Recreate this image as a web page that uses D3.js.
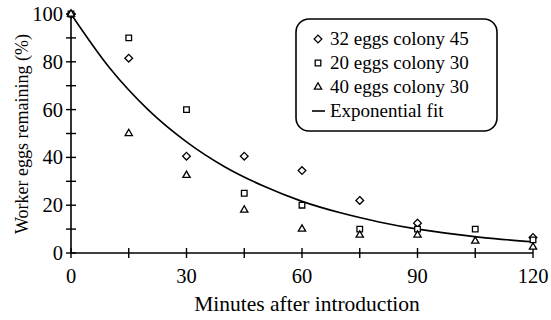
<!DOCTYPE html>
<html>
<head>
<meta charset="utf-8">
<script src="https://cdn.jsdelivr.net/npm/d3@7"></script>
<style>
  body { margin: 0; background: #fff; }
  svg text { font-family: "Liberation Serif", "DejaVu Serif", serif; fill: #000; }
</style>
</head>
<body>
<svg id="chart" width="551" height="320"></svg>
<script>
// data
const minutes = [0, 15, 30, 45, 60, 75, 90, 105, 120];
const eggs32col45 = [100, 81.5, 40.5, 40.5, 34.5, 22, 12.5, null, 6.5];
const eggs20col30 = [100, 90, 60, 25, 20, 10, 10, 10, 5.5];
const eggs40col30 = [100, 50, 32.5, 18, 10, 7.5, 7.5, 5, 2.5];
const fitMinutes = [0, 10, 20, 30, 40, 50, 60, 70, 80, 90, 100, 110, 120];
const fitValues = [100, 77.5, 60, 46.5, 36, 28, 21.6, 16.8, 13, 10, 7.8, 6, 4.7];
const xTicks = [0, 30, 60, 90, 120];
const yTicks = [0, 20, 40, 60, 80, 100];
const legendLabels = ["32 eggs colony 45", "20 eggs colony 30", "40 eggs colony 30", "Exponential fit"];

const margin = {top: 14, right: 18, bottom: 67, left: 71};

const svg = d3.select("#chart");
const g = svg.append("g").attr("transform", "translate(" + margin.left + "," + margin.top + ")");

const x = d3.scaleLinear().domain([0, 120]).range([0, 462]);
const y = d3.scaleLinear().domain([0, 100]).range([239, 0]);

// axes with ticks crossing the line
const xAxis = g.append("g").attr("transform", "translate(0," + y(0) + ")");
xAxis.append("line").attr("x1", 0).attr("x2", x(120)).attr("stroke", "#000").attr("stroke-width", 1.6);
xAxis.selectAll(".tk").data(d3.range(0, 121, 15)).enter().append("line")
  .attr("x1", d => x(d)).attr("x2", d => x(d)).attr("y1", -5).attr("y2", 5)
  .attr("stroke", "#000").attr("stroke-width", 1.4);
xAxis.selectAll("text").data(xTicks).enter().append("text")
  .attr("x", d => x(d)).attr("y", 30).attr("text-anchor", "middle")
  .attr("font-size", 20.5).text(d => d);

const yAxis = g.append("g");
yAxis.append("line").attr("y1", y(0)).attr("y2", y(100)).attr("stroke", "#000").attr("stroke-width", 1.6);
yAxis.selectAll(".tk").data(d3.range(0, 101, 10)).enter().append("line")
  .attr("x1", -5).attr("x2", 5).attr("y1", d => y(d)).attr("y2", d => y(d))
  .attr("stroke", "#000").attr("stroke-width", 1.4);
yAxis.selectAll("text").data(yTicks).enter().append("text")
  .attr("x", -8).attr("y", d => y(d) + 7).attr("text-anchor", "end")
  .attr("font-size", 20.5).text(d => d);

// axis titles
svg.append("text").attr("x", 307).attr("y", 311).attr("text-anchor", "middle")
  .attr("font-size", 21.5).text("Minutes after introduction");
svg.append("text").attr("transform", "translate(28,134) rotate(-90)").attr("text-anchor", "middle")
  .attr("font-size", 18).text("Worker eggs remaining (%)");

// exponential fit
const line = d3.line().x((d, i) => x(fitMinutes[i])).y(d => y(d)).curve(d3.curveMonotoneX);
g.append("path").datum(fitValues).attr("d", line)
  .attr("fill", "none").attr("stroke", "#000").attr("stroke-width", 1.6);

// markers
const sym = {
  diamond: d3.symbol().type(d3.symbolDiamond2).size(38),
  square: d3.symbol().type(d3.symbolSquare2).size(40),
  triangle: d3.symbol().type(d3.symbolTriangle2).size(38)
};
const series = [
  {vals: eggs32col45, s: sym.diamond},
  {vals: eggs20col30, s: sym.square},
  {vals: eggs40col30, s: sym.triangle}
];
series.forEach(sr => {
  g.selectAll(null).data(minutes.map((m, i) => [m, sr.vals[i]]).filter(d => d[1] != null))
    .enter().append("path")
    .attr("d", sr.s())
    .attr("transform", d => "translate(" + x(d[0]) + "," + y(d[1]) + ")")
    .attr("fill", "#fff").attr("stroke", "#000").attr("stroke-width", 1.3);
});

// legend
const lg = svg.append("g").attr("transform", "translate(296,19)");
lg.append("rect").attr("width", 201).attr("height", 112).attr("rx", 13).attr("ry", 13)
  .attr("fill", "#fff").attr("stroke", "#000").attr("stroke-width", 1.6);
const legSyms = [sym.diamond, sym.square, sym.triangle, null];
legendLabels.forEach((lab, i) => {
  const cy = 20 + i * 24;
  if (legSyms[i]) {
    lg.append("path").attr("d", legSyms[i]().toString())
      .attr("transform", "translate(22," + cy + ")")
      .attr("fill", "#fff").attr("stroke", "#000").attr("stroke-width", 1.3);
  } else {
    lg.append("line").attr("x1", 16).attr("x2", 29).attr("y1", cy).attr("y2", cy)
      .attr("stroke", "#000").attr("stroke-width", 1.6);
  }
  lg.append("text").attr("x", 34).attr("y", cy + 6).attr("font-size", 19).text(lab);
});
</script>
</body>
</html>
